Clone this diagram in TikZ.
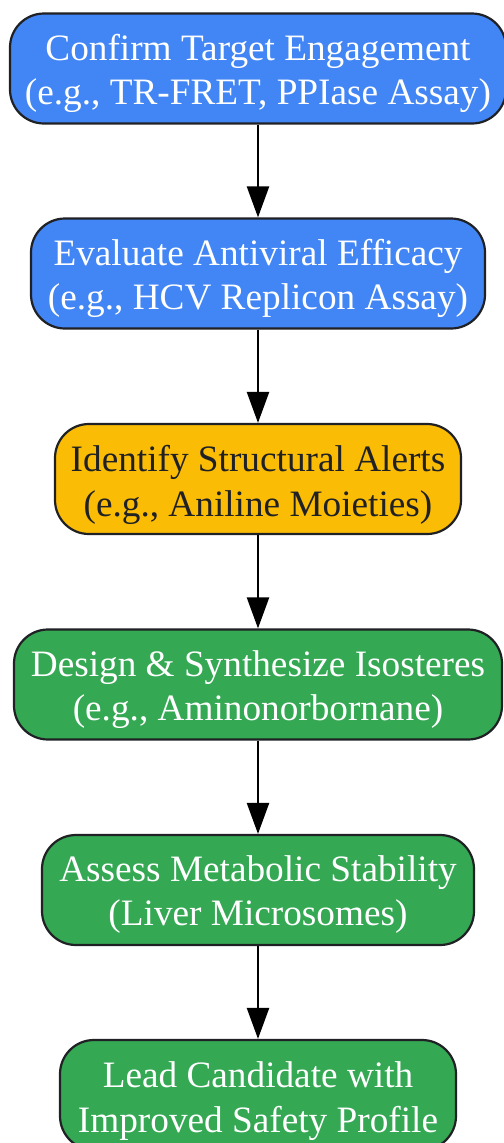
\documentclass[tikz,border=0pt]{standalone}
\usepackage{fontspec}
\setmainfont{Liberation Serif}
\usetikzlibrary{arrows.meta}
\definecolor{cblue}{HTML}{4285F4}
\definecolor{cyel}{HTML}{FBBC05}
\definecolor{cgreen}{HTML}{34A853}
\definecolor{cline}{HTML}{202124}
\newcommand{\topgap}{\rule{0pt}{36bp}}
\newcommand{\topgapb}{\rule{0pt}{38bp}}
\newcommand{\topgapc}{\rule{0pt}{35bp}}
\tikzset{x=1bp,y=-1bp,
 flow/.style={draw=cline,line width=2.2bp,rounded corners=34bp,align=center,font=\fontsize{37.4}{44.2}\selectfont,inner sep=0pt,anchor=center,minimum height=110bp},
 link/.style={draw=black,line width=2.4bp,-{Triangle[length=31bp,width=22bp]}}}
\begin{document}
\begin{tikzpicture}
\useasboundingbox (0,0) rectangle (504,1143);
\node[flow,fill=cblue,text=white,minimum width=496bp] (a) at (258,68.5) {\topgap Confirm Target Engagement\\(e.g., TR-FRET, PPIase Assay)};
\node[flow,fill=cblue,text=white,minimum width=454bp] (b) at (258,273.5) {\topgap Evaluate Antiviral Efficacy\\(e.g., HCV Replicon Assay)};
\node[flow,fill=cyel,text=cline,minimum width=406bp] (c) at (258,479) {\topgapb Identify Structural Alerts\\(e.g., Aniline Moieties)};
\node[flow,fill=cgreen,text=white,minimum width=488bp] (d) at (258,684.5) {\topgap Design \& Synthesize Isosteres\\(e.g., Aminonorbornane)};
\node[flow,fill=cgreen,text=white,minimum width=432bp] (e) at (258,890) {\topgapc Assess Metabolic Stability\\(Liver Microsomes)};
\node[flow,fill=cgreen,text=white,minimum width=396bp] (f) at (258,1095) {\topgapb Lead Candidate with\\Improved Safety Profile};
\draw[link] (a) -- (b);
\draw[link] (b) -- (c);
\draw[link] (c) -- (d);
\draw[link] (d) -- (e);
\draw[link] (e) -- (f);
\end{tikzpicture}
\end{document}
